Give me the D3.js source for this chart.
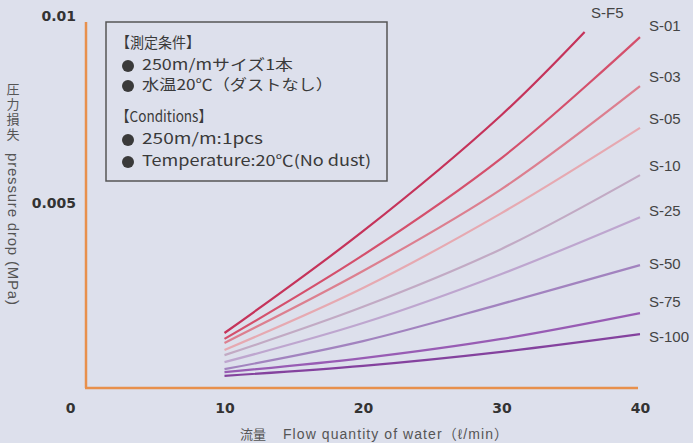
<!DOCTYPE html>
<html>
<head>
<meta charset="utf-8">
<script src="https://cdn.jsdelivr.net/npm/d3@7"></script>
<style>
  html, body { margin: 0; padding: 0; background: #dde0ec; }
  svg { display: block; }
</style>
</head>
<body>
<svg id="chart" width="693" height="443"></svg>
<script>
// Pressure drop chart
var flows = [10, 20, 30, 40];
var flowsF5 = [10, 20, 30, 36];   // S-F5 stops short of 40

var seriesNames = ["S-F5", "S-01", "S-03", "S-05", "S-10", "S-25", "S-50", "S-75", "S-100"];
var sF5  = [0.00149, 0.00425, 0.00740, 0.00965];
var s01  = [0.00133, 0.00360, 0.00623, 0.00951];
var s03  = [0.00122, 0.00317, 0.00539, 0.00818];
var s05  = [0.00103, 0.00271, 0.00474, 0.00705];
var s10  = [0.00089, 0.00220, 0.00377, 0.00577];
var s25  = [0.00070, 0.00176, 0.00309, 0.00463];
var s50  = [0.00051, 0.00127, 0.00228, 0.00333];
var s75  = [0.00043, 0.00081, 0.00133, 0.00203];
var s100 = [0.00033, 0.00060, 0.00098, 0.00146];

var xTicks = [0, 10, 20, 30, 40];
var yTicks = [0.005, 0.01];
var yTickLabels = ["0.005", "0.01"];

var colors = ["#c5335a", "#d4506c", "#dc7f8f", "#e6a9b1", "#c2aac4", "#bea6cf", "#a283bf", "#985cb4", "#84429e"];
// small label nudges (px) relative to line end
var labelDy = { "S-F5": 0, "S-01": -10, "S-03": -8, "S-05": -8, "S-10": -8, "S-25": -5, "S-50": 0, "S-75": -10, "S-100": 4 };

var allValues = [sF5, s01, s03, s05, s10, s25, s50, s75, s100];
var series = seriesNames.map(function (name, i) {
    var xs = name === "S-F5" ? flowsF5 : flows;
    return { name: name, color: colors[i], points: allValues[i].map(function (v, j) { return [xs[j], v]; }) };
});

var svg = d3.select("#chart");
var x = d3.scaleLinear().domain([0, 40]).range([86, 640]);
var y = d3.scaleLinear().domain([0, 0.01]).range([388, 19]);

// orange axis frame
svg.append("line")
    .attr("x1", x(0)).attr("x2", x(0)).attr("y1", 22).attr("y2", y(0))
    .attr("stroke", "#e8904c").attr("stroke-width", 2.5);
svg.append("line")
    .attr("x1", x(0) - 1).attr("x2", x(40) - 2).attr("y1", y(0)).attr("y2", y(0))
    .attr("stroke", "#e8904c").attr("stroke-width", 2.5);

// x ticks
var xAxis = svg.append("g")
    .attr("transform", "translate(0," + 408 + ")")
    .call(d3.axisBottom(x).tickValues(xTicks).tickSize(0).tickFormat(d3.format("d")));
xAxis.select(".domain").remove();
xAxis.selectAll("text")
    .attr("y", 0).attr("dy", "0.35em")
    .attr("font-family", "DejaVu Sans").attr("font-weight", "bold")
    .attr("font-size", 14).attr("fill", "#333")
    .attr("dx", function (d) { return d === 0 ? -16 : 0; });

// y ticks
var yAxis = svg.append("g")
    .attr("transform", "translate(76,0)")
    .call(d3.axisLeft(y).tickValues(yTicks).tickSize(0)
        .tickFormat(function (d, i) { return yTickLabels[i]; }));
yAxis.select(".domain").remove();
yAxis.selectAll("text")
    .attr("x", 0)
    .attr("font-family", "DejaVu Sans").attr("font-weight", "bold")
    .attr("font-size", 14).attr("fill", "#333");
yAxis.selectAll(".tick").filter(function (d) { return d === 0.01; })
    .select("text").attr("dy", "0.1em");

// y title: kanji set vertically, english rotated
svg.append("text")
    .attr("x", 13).attr("y", 83)
    .style("writing-mode", "vertical-rl")
    .attr("font-family", "Noto Sans CJK JP").attr("font-size", 13).attr("fill", "#555")
    .attr("letter-spacing", 2)
    .text("圧力損失");
svg.append("text")
    .attr("transform", "translate(8,153) rotate(90)")
    .attr("font-family", "Liberation Sans").attr("font-size", 15).attr("fill", "#555")
    .attr("textLength", 152).attr("lengthAdjust", "spacing")
    .text("pressure drop (MPa)");

// x title
svg.append("text")
    .attr("x", 240).attr("y", 439)
    .attr("font-family", "Noto Sans CJK JP").attr("font-size", 13).attr("fill", "#555")
    .text("流量");
svg.append("text")
    .attr("x", 283).attr("y", 439)
    .attr("font-family", "Liberation Sans, Noto Sans CJK JP").attr("font-size", 14).attr("fill", "#555")
    .attr("textLength", 225).attr("lengthAdjust", "spacing")
    .text("Flow quantity of water（ℓ/min）");

// curves
var line = d3.line()
    .x(function (d) { return x(d[0]); })
    .y(function (d) { return y(d[1]); })
    .curve(d3.curveCatmullRom);

svg.selectAll("path.curve")
    .data(series.slice().reverse())
    .enter().append("path")
    .attr("class", "curve")
    .attr("d", function (d) { return line(d.points); })
    .attr("fill", "none")
    .attr("stroke", function (d) { return d.color; })
    .attr("stroke-width", 2.2);

// series labels
svg.selectAll("text.slabel")
    .data(series)
    .enter().append("text")
    .attr("class", "slabel")
    .attr("x", function (d) { return d.name === "S-F5" ? 591 : 649; })
    .attr("y", function (d) {
        if (d.name === "S-F5") return 14;
        var last = d.points[d.points.length - 1];
        return y(last[1]) + labelDy[d.name];
    })
    .attr("dominant-baseline", "middle")
    .attr("font-family", "Liberation Sans").attr("font-size", 15).attr("fill", "#444")
    .text(function (d) { return d.name; });

// conditions box
var box = svg.append("g");
box.append("rect")
    .attr("x", 106).attr("y", 22).attr("width", 281).attr("height", 159)
    .attr("fill", "none").attr("stroke", "#555").attr("stroke-width", 1.5);

var boxLines = [
    { t: "【測定条件】", y: 44, bullet: false, w: 84 },
    { t: "250m/mサイズ1本", y: 66, bullet: true, w: 151 },
    { t: "水温20℃（ダストなし）", y: 86, bullet: true, w: 191 },
    { t: "【Conditions】", y: 118, bullet: false, w: 96 },
    { t: "250m/m:1pcs", y: 140, bullet: true, w: 121 },
    { t: "Temperature:20℃(No dust)", y: 162, bullet: true, w: 229 }
];
boxLines.forEach(function (b) {
    if (b.bullet) {
        box.append("circle")
            .attr("cx", 128).attr("cy", b.y).attr("r", 6)
            .attr("fill", "#3a3a3a");
    }
    box.append("text")
        .attr("x", b.bullet ? 142 : 116).attr("y", b.y)
        .attr("dominant-baseline", "middle")
        .attr("font-family", "Noto Sans CJK JP").attr("font-size", 15).attr("fill", "#3a3a3a")
        .attr("textLength", b.w).attr("lengthAdjust", "spacingAndGlyphs")
        .text(b.t);
});
</script>
</body>
</html>
